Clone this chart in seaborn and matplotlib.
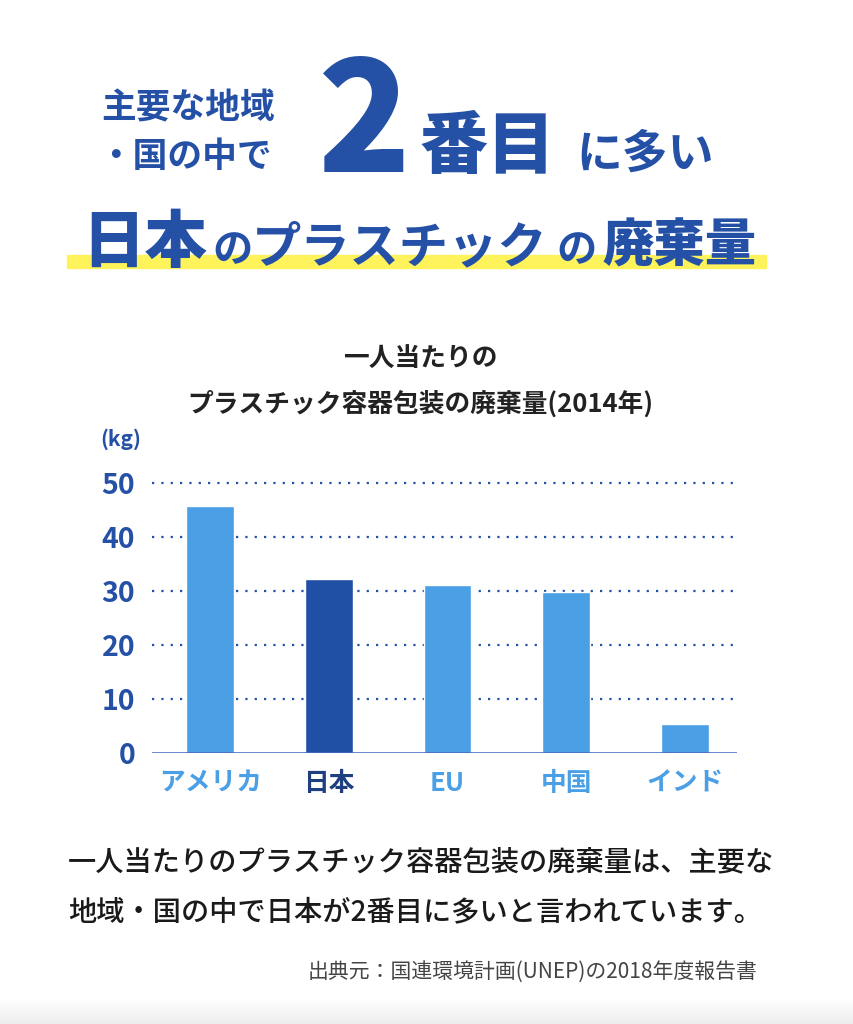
import numpy as np
import pandas as pd
import seaborn as sns
import matplotlib.pyplot as plt

sns.set_style("white")
plt.rcParams['font.family'] = ['Noto Sans CJK JP', 'DejaVu Sans']

# data
regions = ["アメリカ", "日本", "EU", "中国", "インド"]
waste_kg = [45.7, 32.2, 31.1, 29.8, 5.4]
yticks = [0, 10, 20, 30, 40, 50]

navy = "#2450A6"
light = "#4A9FE5"
dark_bar = "#2050A5"
bar_colors = [light, dark_bar, light, light, light]
label_colors = [light, "#1E3F80", light, light, light]

df = pd.DataFrame({"region": regions, "kg": waste_kg})

fig = plt.figure(figsize=(8.54, 10.24), dpi=100)
fig.patch.set_facecolor("white")

# headline
fig.text(275 / 854, 1 - 108 / 1024, "主要な地域", ha="right", va="center",
         fontsize=25, fontweight="bold", color=navy)
fig.text(272 / 854, 1 - 156 / 1024, "・国の中で", ha="right", va="center",
         fontsize=25, fontweight="bold", color=navy)
fig.text(318 / 854, 1 - 172 / 1024, "2", ha="left", va="baseline",
         fontsize=110, fontweight="black", color=navy)
fig.text(420 / 854, 1 - 168 / 1024, "番目", ha="left", va="baseline",
         fontsize=49, fontweight="black", color=navy)
fig.text(576 / 854, 1 - 168 / 1024, "に多い", ha="left", va="baseline",
         fontsize=33, fontweight="bold", color=navy)

# yellow highlight under the second line
fig.patches.append(plt.Rectangle((67 / 854, 1 - 268 / 1024), 699 / 854, 13 / 1024,
                                 transform=fig.transFigure, color="#FFF35C", zorder=0))
fig.text(82 / 854, 1 - 262 / 1024, "日本", ha="left", va="baseline",
         fontsize=45, fontweight="black", color=navy)
fig.text(212 / 854, 1 - 262 / 1024, "の", ha="left", va="baseline",
         fontsize=29, fontweight="bold", color=navy)
fig.text(252 / 854, 1 - 262 / 1024, "プラスチック", ha="left", va="baseline",
         fontsize=35.5, fontweight="bold", color=navy)
fig.text(556 / 854, 1 - 262 / 1024, "の", ha="left", va="baseline",
         fontsize=29, fontweight="bold", color=navy)
fig.text(602 / 854, 1 - 262 / 1024, "廃棄量", ha="left", va="baseline",
         fontsize=37, fontweight="black", color=navy)

# chart title
fig.text(420 / 854, 1 - 358 / 1024, "一人当たりの", ha="center", va="center",
         fontsize=18.5, fontweight="bold", color="#222222")
fig.text(420 / 854, 1 - 404 / 1024, "プラスチック容器包装の廃棄量(2014年)", ha="center",
         va="center", fontsize=18.5, fontweight="bold", color="#222222")
fig.text(100 / 854, 1 - 439 / 1024, "(kg)", ha="left", va="center",
         fontsize=15, fontweight="bold", color=navy)

# bar chart
ax = fig.add_axes([152 / 854, 1 - 753 / 1024, 585 / 854, 270 / 1024])
sns.barplot(data=df, x="region", y="kg", hue="region", palette=bar_colors,
            saturation=1, width=0.4, legend=False, ax=ax, zorder=3)
ax.set_ylim(0, 50)
ax.set_xlim(-0.49, 4.44)
ax.set_yticks(yticks)
for y in yticks[1:]:
    ax.axhline(y, color=navy, linestyle=(0, (1, 3.2)), linewidth=1.6, zorder=1,
               clip_on=False)
ax.axhline(0, color="#3A64BA", linewidth=1.8, zorder=4)
sns.despine(ax=ax, left=True, bottom=True)
ax.set_xlabel("")
ax.set_ylabel("")
ax.tick_params(axis="both", length=0)
ax.tick_params(axis="y", pad=12, labelsize=20.5, labelcolor=navy)
ax.tick_params(axis="x", pad=12, labelsize=18.5)
for lab in ax.get_yticklabels():
    lab.set_fontweight("bold")
for lab, c in zip(ax.get_xticklabels(), label_colors):
    lab.set_color(c)
    lab.set_fontweight("bold")

# caption
fig.text(68 / 854, 1 - 862 / 1024, "一人当たりのプラスチック容器包装の廃棄量は、主要な",
         ha="left", va="center", fontsize=20.3, fontweight="medium", color="#1a1a1a")
fig.text(68 / 854, 1 - 912 / 1024, "地域・国の中で日本が2番目に多いと言われています。",
         ha="left", va="center", fontsize=20.3, fontweight="medium", color="#1a1a1a")
fig.text(758 / 854, 1 - 972 / 1024, "出典元：国連環境計画(UNEP)の2018年度報告書",
         ha="right", va="center", fontsize=15, color="#444444")

# faint shadow along the bottom edge
shade = fig.add_axes([0, 0, 1, 26 / 1024], zorder=-1)
shade.imshow(np.linspace(1.0, 0.93, 50).reshape(-1, 1), aspect="auto",
             cmap="gray", vmin=0, vmax=1, extent=[0, 1, 0, 1])
shade.axis("off")

fig.savefig("out.png", dpi=100)
